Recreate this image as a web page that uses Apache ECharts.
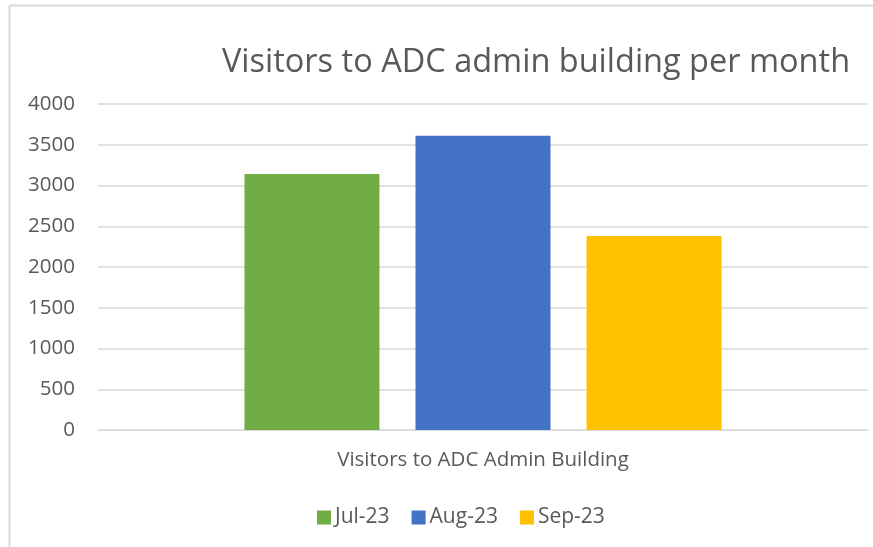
<!DOCTYPE html>
<html>
<head>
<meta charset="utf-8">
<script src="https://cdn.jsdelivr.net/npm/echarts@6/dist/echarts.min.js"></script>
<style>html,body{margin:0;padding:0;background:#fff}#c{width:873px;height:547px}</style>
</head>
<body>
<div id="c"></div>
<script>
const title = 'Visitors to ADC admin building per month';
const categories = ['Visitors to ADC Admin Building'];
const seriesNames = ['Jul-23', 'Aug-23', 'Sep-23'];
const seriesValues = [[3140], [3610], [2380]];
const seriesColors = ['#70AD47', '#4472C4', '#FFC000'];
const yMin = 0, yMax = 4000, yInterval = 500;

const font = 'Open Sans, Noto Sans, sans-serif';
const chart = echarts.init(document.getElementById('c'));
chart.setOption({
  animation: false,
  title: {
    text: title, left: 531, top: 41, textAlign: 'center',
    textStyle: { fontFamily: font, fontSize: 32.5, fontWeight: 'normal', color: '#595959' }
  },
  legend: {
    top: 502, left: 312, itemWidth: 14, itemHeight: 14, itemGap: 22,
    icon: 'rect',
    textStyle: { fontFamily: font, fontSize: 21, color: '#595959', padding: [0, 0, 0, -1] },
    data: seriesNames
  },
  grid: { left: 98, right: 5, top: 104, bottom: 117, containLabel: false },
  xAxis: {
    type: 'category', data: categories,
    axisLine: { lineStyle: { color: '#d9d9d9', width: 1 } },
    axisTick: { show: false },
    axisLabel: { fontFamily: font, fontSize: 20.5, color: '#595959', margin: 20 }
  },
  yAxis: {
    type: 'value', min: yMin, max: yMax, interval: yInterval,
    axisLine: { show: false }, axisTick: { show: false },
    splitLine: { lineStyle: { color: '#d9d9d9', width: 1.5 } },
    axisLabel: { fontFamily: font, fontSize: 20.5, color: '#595959', margin: 23, formatter: v => String(v) }
  },
  series: seriesNames.map((n, i) => ({
    name: n, type: 'bar', data: seriesValues[i], barWidth: 135, barGap: '26.7%',
    itemStyle: { color: seriesColors[i] }
  })),
  graphic: [
    { type: 'line', shape: { x1: 9.5, y1: 5.5, x2: 873, y2: 5.5 }, style: { stroke: '#d9d9d9', lineWidth: 2 } },
    { type: 'line', shape: { x1: 9.5, y1: 5.5, x2: 9.5, y2: 547 }, style: { stroke: '#d9d9d9', lineWidth: 2 } }
  ]
});
</script>
</body>
</html>
